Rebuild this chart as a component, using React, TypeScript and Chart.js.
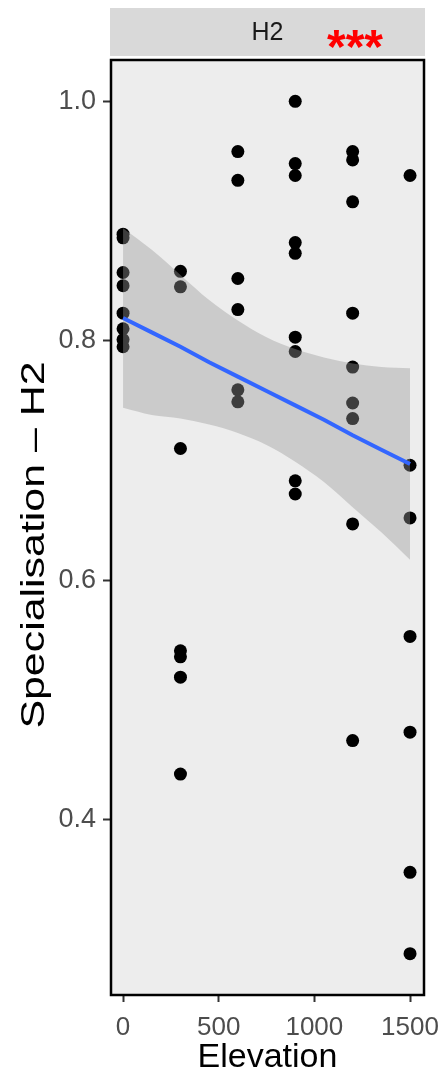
import React, { useEffect, useRef } from "react";
import { Chart, registerables } from "chart.js";

Chart.register(...registerables);

// ---- data ----
const elevation = [
  0, 0, 0, 0, 0, 0, 0, 0,
  300, 300, 300, 300, 300, 300, 300,
  600, 600, 600, 600, 600, 600,
  900, 900, 900, 900, 900, 900, 900, 900, 900,
  1200, 1200, 1200, 1200, 1200, 1200, 1200, 1200, 1200,
  1500, 1500, 1500, 1500, 1500, 1500, 1500,
];
const specialisation = [
  0.889, 0.886, 0.857, 0.846, 0.823, 0.81, 0.801, 0.795,
  0.858, 0.845, 0.71, 0.541, 0.536, 0.519, 0.438,
  0.958, 0.934, 0.852, 0.826, 0.759, 0.749,
  1.0, 0.948, 0.938, 0.882, 0.873, 0.803, 0.791, 0.683, 0.672,
  0.958, 0.951, 0.916, 0.823, 0.778, 0.748, 0.735, 0.647, 0.466,
  0.938, 0.696, 0.652, 0.553, 0.473, 0.356, 0.288,
];

// fitted line and 95% confidence band
const fitElevation = [0, 150, 300, 450, 600, 750, 900, 1050, 1200, 1350, 1500];
const fitValue = [0.819, 0.807, 0.795, 0.782, 0.77, 0.758, 0.746, 0.734, 0.721, 0.709, 0.697];
const ciUpper = [0.894, 0.876, 0.855, 0.834, 0.817, 0.803, 0.793, 0.786, 0.781, 0.778, 0.777];
const ciLower = [0.744, 0.738, 0.735, 0.73, 0.723, 0.713, 0.699, 0.682, 0.661, 0.64, 0.617];

const xTicks = [0, 500, 1000, 1500];
const yTicks = [0.4, 0.6, 0.8, 1.0];
const facetLabel = "H2";
const significance = "***";
const xTitle = "Elevation";
const yTitle = "Specialisation \u2013 H2";

const FONT = "'Liberation Sans', Arial, Helvetica, sans-serif";

export default function App() {
  const ref = useRef<HTMLCanvasElement | null>(null);

  useEffect(() => {
    const canvas = ref.current;
    if (!canvas) return;

    const points = elevation.map((x, i) => ({ x, y: specialisation[i] }));
    const fit = fitElevation.map((x, i) => ({ x, y: fitValue[i] }));
    const upper = fitElevation.map((x, i) => ({ x, y: ciUpper[i] }));
    const lower = fitElevation.map((x, i) => ({ x, y: ciLower[i] }));

    const panelPlugin = {
      id: "panelPlugin",
      beforeDraw(chart: any) {
        const { ctx, chartArea } = chart;
        const { left, top, right, bottom } = chartArea;
        ctx.save();
        // panel background
        ctx.fillStyle = "#ededed";
        ctx.fillRect(left, top, right - left, bottom - top);
        // facet strip
        ctx.fillStyle = "#d9d9d9";
        ctx.fillRect(left - 1, 8, right - left + 2, 48);
        ctx.fillStyle = "#1a1a1a";
        ctx.font = `25px ${FONT}`;
        ctx.textAlign = "center";
        ctx.textBaseline = "middle";
        ctx.fillText(facetLabel, (left + right) / 2, 33);
        ctx.fillStyle = "#ff0000";
        ctx.font = `bold 48px ${FONT}`;
        ctx.textBaseline = "alphabetic";
        ctx.fillText(significance, 355, 63);
        ctx.restore();
      },
      afterDraw(chart: any) {
        const { ctx, chartArea } = chart;
        const { left, top, right, bottom } = chartArea;
        ctx.save();
        ctx.strokeStyle = "#000";
        ctx.lineWidth = 2.5;
        ctx.strokeRect(left, top, right - left, bottom - top);
        ctx.restore();
        // y-axis title (drawn stretched along its length, as in the reference)
        ctx.save();
        ctx.translate(35, 545);
        ctx.rotate(-Math.PI / 2);
        ctx.scale(1.3, 1);
        ctx.fillStyle = "#000";
        ctx.font = `33px ${FONT}`;
        ctx.textAlign = "center";
        ctx.textBaseline = "middle";
        ctx.fillText(yTitle, 0, 0);
        ctx.restore();
      },
    };

    const chart = new Chart(canvas, {
      type: "scatter",
      data: {
        datasets: [
          {
            type: "scatter",
            data: points,
            backgroundColor: "#000000",
            borderColor: "#000000",
            borderWidth: 0,
            pointRadius: 6.5,
            order: 3,
          } as any,
          {
            type: "line",
            data: upper,
            borderColor: "rgba(0,0,0,0)",
            backgroundColor: "rgba(153,153,153,0.4)",
            pointRadius: 0,
            fill: "+1",
            cubicInterpolationMode: "monotone",
            order: 2,
          } as any,
          {
            type: "line",
            data: lower,
            borderColor: "rgba(0,0,0,0)",
            pointRadius: 0,
            fill: false,
            cubicInterpolationMode: "monotone",
            order: 2,
          } as any,
          {
            type: "line",
            data: fit,
            borderColor: "#3366FF",
            borderWidth: 4,
            pointRadius: 0,
            fill: false,
            order: 1,
          } as any,
        ],
      },
      options: {
        animation: false,
        responsive: false,
        maintainAspectRatio: false,
        devicePixelRatio: 1,
        layout: { padding: { left: 0, right: 22, top: 60, bottom: 0 } },
        plugins: {
          legend: { display: false },
          tooltip: { enabled: false },
        },
        scales: {
          x: {
            type: "linear",
            min: -63,
            max: 1573,
            afterBuildTicks: (s: any) => {
              s.ticks = xTicks.map((v) => ({ value: v }));
            },
            afterFit: (s: any) => {
              s.height = 82;
              s.paddingLeft = 0;
              s.paddingRight = 0;
            },
            border: { display: false },
            grid: {
              drawOnChartArea: false,
              drawTicks: true,
              tickLength: 7,
              tickColor: "#333333",
              tickWidth: 2,
            },
            ticks: {
              color: "#4d4d4d",
              font: { size: 26, family: FONT },
              padding: 10,
              maxRotation: 0,
              autoSkip: false,
              callback: (v: any) => String(v),
            },
            title: {
              display: true,
              text: xTitle,
              color: "#000000",
              font: { size: 34, family: FONT },
              padding: { top: 0, bottom: -1 },
            },
          },
          y: {
            type: "linear",
            min: 0.2535,
            max: 1.0345,
            afterBuildTicks: (s: any) => {
              s.ticks = yTicks.map((v) => ({ value: v }));
            },
            afterFit: (s: any) => {
              s.width = 111;
              s.paddingTop = 0;
              s.paddingBottom = 0;
            },
            border: { display: false },
            grid: {
              drawOnChartArea: false,
              drawTicks: true,
              tickLength: 8,
              tickColor: "#333333",
              tickWidth: 2,
            },
            ticks: {
              color: "#4d4d4d",
              font: { size: 27, family: FONT },
              padding: 7,
              callback: (v: any) => Number(v).toFixed(1),
            },
            title: { display: false },
          },
        },
      },
      plugins: [panelPlugin],
    } as any);

    return () => chart.destroy();
  }, []);

  return (
    <div style={{ position: "fixed", left: 0, top: 0, width: 446, height: 1077, background: "#ffffff" }}>
      <canvas ref={ref} width={446} height={1077} style={{ width: 446, height: 1077, display: "block" }} />
    </div>
  );
}
